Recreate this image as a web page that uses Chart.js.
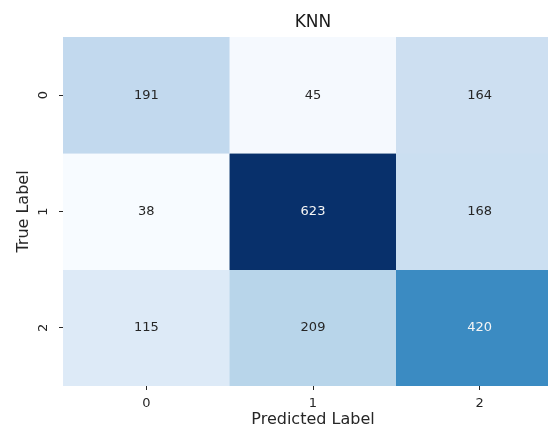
<!DOCTYPE html>
<html>
<head>
<meta charset="utf-8">
<script src="https://cdn.jsdelivr.net/npm/chart.js@4/dist/chart.umd.min.js"></script>
<style>
  html, body { margin: 0; padding: 0; background: #ffffff; }
  #wrap { width: 548px; height: 433px; overflow: hidden; position: relative; }
  #cm { display: block; }
</style>
</head>
<body>
<div id="wrap"><canvas id="cm" width="600" height="433"></canvas></div>
<script>
// Confusion matrix of the KNN classifier
const predictedLabels = ['0', '1', '2'];
const trueLabels = ['0', '1', '2'];
const row0 = [191, 45, 164];
const row1 = [38, 623, 168];
const row2 = [115, 209, 420];
const matrix = [row0, row1, row2];

// "Blues" colour ramp
const bluesStops = [
  [247, 251, 255], [222, 235, 247], [198, 219, 239], [158, 202, 225],
  [107, 174, 214], [66, 146, 198], [33, 113, 181], [8, 81, 156], [8, 48, 107]
];
const allValues = matrix.flat();
const vmin = Math.min(...allValues);
const vmax = Math.max(...allValues);

function bluesRGB(v) {
  let t = (v - vmin) / (vmax - vmin);
  t = Math.max(0, Math.min(1, t)) * (bluesStops.length - 1);
  const i = Math.min(Math.floor(t), bluesStops.length - 2);
  const f = t - i;
  const a = bluesStops[i], b = bluesStops[i + 1];
  return a.map((c, k) => Math.round(c + (b[k] - c) * f));
}
function rgbStr(c) { return 'rgb(' + c.join(',') + ')'; }
function luminance(c) {
  const l = c.map(x => {
    x /= 255;
    return x <= 0.03928 ? x / 12.92 : Math.pow((x + 0.055) / 1.055, 2.4);
  });
  return 0.2126 * l[0] + 0.7152 * l[1] + 0.0722 * l[2];
}

const FONT = "'DejaVu Sans', sans-serif";
const INK = '#262626';

// one dataset per true-label row; each cell spans its row band on the y scale
const datasets = trueLabels.map((lbl, r) => ({
  label: lbl,
  data: predictedLabels.map(() => [r - 0.5, r + 0.5]),
  counts: matrix[r],
  backgroundColor: matrix[r].map(v => rgbStr(bluesRGB(v))),
  borderColor: matrix[r].map(v => rgbStr(bluesRGB(v))),
  borderWidth: 0.6,
  borderSkipped: false,
  barPercentage: 1,
  categoryPercentage: 1,
  grouped: false
}));

// writes each cell's count in its centre
const cellText = {
  id: 'cellText',
  afterDatasetsDraw(chart) {
    const ctx = chart.ctx;
    ctx.save();
    ctx.font = '13px ' + FONT;
    ctx.textAlign = 'center';
    ctx.textBaseline = 'middle';
    chart.data.datasets.forEach((ds, di) => {
      const meta = chart.getDatasetMeta(di);
      meta.data.forEach((bar, ci) => {
        const v = ds.counts[ci];
        const p = bar.getCenterPoint();
        ctx.fillStyle = luminance(bluesRGB(v)) < 0.408 ? '#f5f5f5' : INK;
        ctx.fillText(String(v), p.x, p.y);
      });
    });
    ctx.restore();
  }
};

new Chart(document.getElementById('cm'), {
  type: 'bar',
  data: { labels: predictedLabels, datasets },
  plugins: [cellText],
  options: {
    responsive: false,
    animation: false,
    layout: { padding: { left: 0, right: 37, top: 0, bottom: 0 } },
    plugins: {
      legend: { display: false },
      tooltip: { enabled: false },
      title: {
        display: true,
        fullSize: false,
        text: 'KNN',
        color: '#1a1a1a',
        font: { family: FONT, size: 17, weight: 'normal' },
        padding: { top: 12.5, bottom: 4.1 }
      }
    },
    scales: {
      x: {
        type: 'category',
        offset: true,
        grid: { offset: false, drawOnChartArea: false, drawTicks: true, tickLength: 4, tickColor: INK, tickWidth: 1 },
        border: { display: false },
        ticks: { color: INK, font: { family: FONT, size: 13 }, padding: 6, maxRotation: 0 },
        title: {
          display: true, text: 'Predicted Label', color: INK,
          font: { family: FONT, size: 16 }, padding: { top: 0, bottom: 3.4 }
        },
        afterFit(s) { s.height = 47; }
      },
      y: {
        type: 'linear',
        reverse: true,
        min: -0.5,
        max: 2.5,
        afterBuildTicks(s) { s.ticks = trueLabels.map((t, i) => ({ value: i })); },
        grid: { drawOnChartArea: false, drawTicks: true, tickLength: 4, tickColor: INK, tickWidth: 1 },
        border: { display: false },
        ticks: {
          color: INK, font: { family: FONT, size: 13 }, padding: 11.5,
          minRotation: 90, maxRotation: 90, crossAlign: 'center',
          callback: (v) => trueLabels[v]
        },
        title: {
          display: true, text: 'True Label', color: INK,
          font: { family: FONT, size: 16 }, padding: { top: 14, bottom: 0 }
        },
        afterFit(s) { s.width = 63; }
      }
    }
  }
});
</script>
</body>
</html>
